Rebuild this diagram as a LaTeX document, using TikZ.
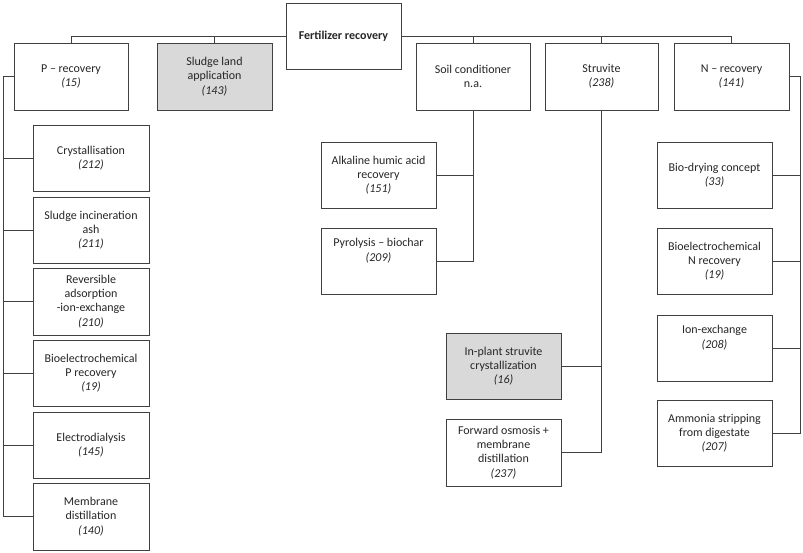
\documentclass[tikz,border=0pt]{standalone}
\usepackage{fontspec}
\setmainfont{Carlito}
\begin{document}
\begin{tikzpicture}[x=1pt,y=-1pt,
  line width=0.9pt,
  every node/.style={text=black!85},
  box/.style={draw=black!75, line width=0.9pt, fill=white, minimum width=115pt, minimum height=66pt, align=center, inner sep=2pt, font=\fontsize{12}{14.2}\selectfont},
  graybox/.style={box, fill=black!15},
  conn/.style={draw=black!75, line width=0.9pt}]
\useasboundingbox (0,0) rectangle (803,553);
% top level
\node[box, font=\fontsize{12}{14.2}\selectfont\bfseries, minimum height=66pt] (F) at (343.5,36) {Fertilizer recovery};
\node[box, minimum width=114pt, minimum height=67pt] (P) at (71,76.5) {P -- recovery\\\textit{(15)}};
\node[graybox, minimum width=115pt, minimum height=67pt] (SL) at (214.5,76.5) {Sludge land\\application\\\textit{(143)}};
\node[box, minimum width=114pt, minimum height=67pt] (SC) at (473,76.5) {Soil conditioner\\n.a.};
\node[box, minimum width=113pt, minimum height=67pt] (ST) at (601.5,76.5) {Struvite\\\textit{(238)}};
\node[box, minimum width=115pt, minimum height=67pt] (N) at (731.5,76.5) {N -- recovery\\\textit{(141)}};
% left column
\node[box, minimum width=116pt] (cr) at (91,158) {Crystallisation\\\textit{(212)}};
\node[box, minimum width=116pt] (si) at (91,230) {Sludge incineration\\ash\\\textit{(211)}};
\node[box, minimum width=116pt, minimum height=67pt] (ra) at (91,301.5) {Reversible\\adsorption\\-ion-exchange\\\textit{(210)}};
\node[box, minimum width=116pt] (bp) at (91,373) {Bioelectrochemical\\P recovery\\\textit{(19)}};
\node[box, minimum width=116pt] (ed) at (91,445) {Electrodialysis\\\textit{(145)}};
\node[box, minimum width=116pt, minimum height=67pt] (md) at (91,516.5) {Membrane\\distillation\\\textit{(140)}};
% soil conditioner children
\node[box] (ah) at (378.5,175) {Alkaline humic acid\\recovery\\\textit{(151)}};
\node[box] (py) at (378.5,261) {Pyrolysis -- biochar\\\textit{(209)}\\[8pt]};
% struvite children
\node[graybox] (ip) at (503.5,366) {In-plant struvite\\crystallization\\\textit{(16)}};
\node[box, minimum height=67pt] (fo) at (503.5,452.5) {Forward osmosis +\\membrane\\distillation\\\textit{(237)}};
% N children
\node[box] (bd) at (714.5,175) {Bio-drying concept\\\textit{(33)}};
\node[box] (bn) at (714.5,261) {Bioelectrochemical\\N recovery\\\textit{(19)}};
\node[box] (ix) at (714.5,348) {Ion-exchange\\\textit{(208)}\\[8pt]};
\node[box] (am) at (714.5,433) {Ammonia stripping\\from digestate\\\textit{(207)}};
% spines
\coordinate (lspine) at (3,0);
\coordinate (rspine) at (800,0);
% top bus
\draw[conn] (P.north) |- (F.west);
\draw[conn] (F.east) -| (N.north);
\draw[conn] (SL.north) -- (SL.north |- F.west);
\draw[conn] (SC.north) -- (SC.north |- F.west);
\draw[conn] (ST.north) -- (ST.north |- F.west);
% left
\draw[conn] (P.west) -| (lspine |- md.west) -- (md.west);
\foreach \n in {cr,si,ra,bp,ed}{\draw[conn] (\n.west) -- (\n.west -| lspine);}
% soil
\draw[conn] (SC.south) |- (py.east);
\draw[conn] (ah.east) -- (ah.east -| SC.south);
% struvite
\draw[conn] (ST.south) |- (fo.east);
\draw[conn] (ip.east) -- (ip.east -| ST.south);
% N
\draw[conn] (N.east) -| (rspine |- am.east) -- (am.east);
\foreach \n in {bd,bn,ix}{\draw[conn] (\n.east) -- (\n.east -| rspine);}
\end{tikzpicture}
\end{document}
